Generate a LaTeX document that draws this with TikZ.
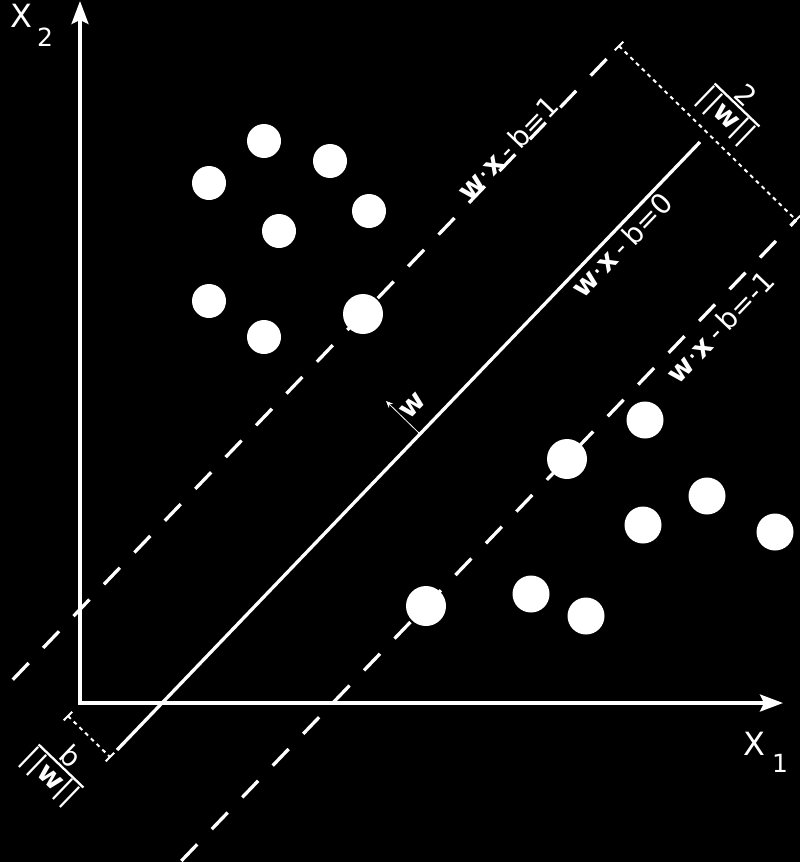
\documentclass[tikz,border=0pt]{standalone}
\usepackage{fontspec}
\setmainfont{DejaVu Sans}
\usetikzlibrary{arrows.meta}
\newcommand\gp{\hspace{5pt}}
\begin{document}
\begin{tikzpicture}[x=1pt,y=-1pt,
  axis/.style={white, line width=3.3pt, line join=miter, {Stealth[length=23pt,width=17pt,inset=4pt]}-{Stealth[length=23pt,width=17pt,inset=4pt]}},
  hyper/.style={white, line width=3.3pt},
  margin/.style={white, line width=3.3pt, dash pattern=on 23pt off 21pt},
  dimline/.style={white, line width=2pt, dash pattern=on 4pt off 4pt},
  tickmark/.style={white, line width=2pt},
  dotA/.style={circle, fill=white, inner sep=0pt, minimum size=34pt},
  dotB/.style={circle, fill=white, inner sep=0pt, minimum size=37pt},
  dotC/.style={circle, fill=white, inner sep=0pt, minimum size=40pt},
  lbl/.style={text=white, font=\fontsize{28}{28}\selectfont, rotate=46.2, inner sep=0pt},
  fr/.style={text=white, font=\fontsize{28}{28}\selectfont, inner sep=1pt},
  axlbl/.style={text=white, font=\fontsize{32}{32}\selectfont, inner sep=0pt},
  sublbl/.style={text=white, font=\fontsize{25}{25}\selectfont, inner sep=0pt}]
\fill[black] (0,0) rectangle (800,862);
\useasboundingbox (0,0) rectangle (800,862);

% axes
\coordinate (O) at (80,703);
\coordinate (Ytop) at (80,1);
\coordinate (Xend) at (783,703);
\draw[axis] (Ytop) -- (O) -- (Xend);
\node[axlbl] (x2) at (21,16) {X};
\node[sublbl] (x2s) at (45,37) {2};
\node[axlbl] (x1) at (754,744) {X};
\node[sublbl] (x1s) at (780,763) {1};

% hyperplanes
\coordinate (S1) at (700,142);
\coordinate (S0) at (117,750);
\draw[hyper] (S1) -- (S0);
\coordinate (U1) at (619,46);
\coordinate (U0) at (0,693);
\draw[margin, dash phase=26pt] (U1) -- (U0);
\coordinate (L1) at (796,220);
\coordinate (L0) at (163,880);
\draw[margin, dash phase=15pt] (L1) -- (L0);

% margin dimension (top right)
\draw[dimline] (U1) -- (L1);
\draw[tickmark] ([shift={(-4.2,4.3)}]U1) -- ([shift={(4.2,-4.3)}]U1);
\draw[tickmark] ([shift={(-4.2,4.3)}]L1) -- ([shift={(4.2,-4.3)}]L1);
\begin{scope}[shift={(737,105)}, rotate=-43.8, transform shape]
  \coordinate (fa) at (-31,0);
  \coordinate (fb) at (31,0);
  \draw[white, line width=2.3pt] (fa) -- (fb);
  \node[fr, anchor=south] (num1) at (0,-2) {2};
  \node[fr, anchor=north] (den1) at (0,1) {|\hspace{1.5pt}|\textbf{w}|\hspace{1.5pt}|};
\end{scope}

% offset dimension (bottom left)
\coordinate (B1) at (68,716);
\coordinate (B2) at (110,757);
\draw[dimline] (B1) -- (B2);
\draw[tickmark] ([shift={(-4.2,4.3)}]B1) -- ([shift={(4.2,-4.3)}]B1);
\draw[tickmark] ([shift={(-4.2,4.3)}]B2) -- ([shift={(4.2,-4.3)}]B2);
\begin{scope}[shift={(61,766)}, rotate=-43.8, transform shape]
  \coordinate (fc) at (-31,0);
  \coordinate (fd) at (31,0);
  \draw[white, line width=2.3pt] (fc) -- (fd);
  \node[fr, anchor=south] (num2) at (0,-2) {b};
  \node[fr, anchor=north] (den2) at (0,1) {|\hspace{1.5pt}|\textbf{w}|\hspace{1.5pt}|};
\end{scope}

% normal vector w
\coordinate (W0) at (420,434);
\coordinate (W1) at (386,401);
\draw[white, line width=0.8pt, -{Stealth[length=7pt,width=6pt]}] (W0) -- (W1);
\node[lbl] (wl) at (413,406) {\textbf{w}};

% hyperplane labels
\node[lbl] (lp) at (508,148) {\textbf{w}·\textbf{x}\gp-\gp b=1};
\node[lbl] (lz) at (622,245) {\textbf{w}·\textbf{x}\gp-\gp b=0};
\node[lbl] (lm) at (720,327) {\textbf{w}·\textbf{x}\gp-\gp b=-1};

% class 1 points
\node[dotA] (a1) at (264,141) {};
\node[dotA] (a2) at (330,161) {};
\node[dotA] (a3) at (209,183) {};
\node[dotA] (a4) at (369,211) {};
\node[dotA] (a5) at (279,231) {};
\node[dotA] (a6) at (209,301) {};
\node[dotA] (a7) at (264,337) {};
\node[dotC] (a8) at (363,314) {};

% class 2 points
\node[dotB] (b1) at (645,420) {};
\node[dotC] (b2) at (567,459) {};
\node[dotB] (b3) at (707,496) {};
\node[dotB] (b4) at (643,525) {};
\node[dotB] (b5) at (775,532) {};
\node[dotC] (b6) at (426,606) {};
\node[dotB] (b7) at (531,594) {};
\node[dotB] (b8) at (586,616) {};
\end{tikzpicture}
\end{document}
